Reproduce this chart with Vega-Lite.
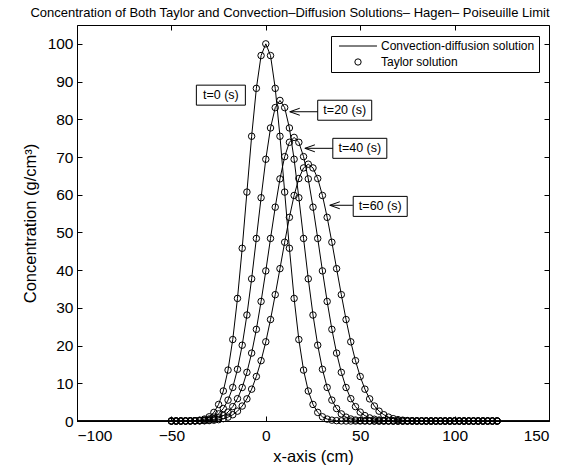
{
  "$schema": "https://vega.github.io/schema/vega-lite/v6.json",
  "width": 472,
  "height": 396,
  "autosize": "none",
  "padding": {"left": 77, "top": 25, "right": 31, "bottom": 54},
  "background": "white",
  "title": {"text": "Concentration of Both Taylor and Convection–Diffusion Solutions– Hagen– Poiseuille Limit", "fontSize": 13, "fontWeight": "normal", "color": "black", "dx": -23, "offset": 5},
  "config": {
    "font": "Liberation Sans",
    "view": {"stroke": "black", "strokeWidth": 1},
    "axis": {"grid": false, "domain": false, "tickColor": "black", "labelColor": "black", "titleColor": "black", "labelFontSize": 15.5, "titleFontSize": 16.5, "titleFontWeight": "normal", "tickSize": -5, "labelPadding": 9}
  },
  "datasets": {
    "conc": [
      {"x": -100, "t0": 0, "t20": 0, "t40": 0, "t60": 0},
      {"x": -50, "t0": 0, "t20": 0, "t40": 0, "t60": 0},
      {"x": -47.5, "t0": 0, "t20": 0, "t40": 0, "t60": 0},
      {"x": -45, "t0": 0, "t20": 0, "t40": 0, "t60": 0},
      {"x": -42.5, "t0": 0.01, "t20": 0.01, "t40": 0, "t60": 0},
      {"x": -40, "t0": 0.03, "t20": 0.02, "t40": 0.01, "t60": 0.01},
      {"x": -37.5, "t0": 0.09, "t20": 0.06, "t40": 0.03, "t60": 0.02},
      {"x": -35, "t0": 0.22, "t20": 0.13, "t40": 0.06, "t60": 0.03},
      {"x": -32.5, "t0": 0.51, "t20": 0.26, "t40": 0.13, "t60": 0.06},
      {"x": -30, "t0": 1.11, "t20": 0.53, "t40": 0.25, "t60": 0.11},
      {"x": -27.5, "t0": 2.28, "t20": 1.02, "t40": 0.46, "t60": 0.21},
      {"x": -25, "t0": 4.39, "t20": 1.88, "t40": 0.82, "t60": 0.36},
      {"x": -22.5, "t0": 7.96, "t20": 3.3, "t40": 1.42, "t60": 0.62},
      {"x": -20, "t0": 13.5, "t20": 5.54, "t40": 2.36, "t60": 1.03},
      {"x": -17.5, "t0": 21.6, "t20": 8.9, "t40": 3.81, "t60": 1.66},
      {"x": -15, "t0": 32.5, "t20": 13.7, "t40": 5.92, "t60": 2.61},
      {"x": -12.5, "t0": 45.8, "t20": 20.1, "t40": 8.88, "t60": 3.97},
      {"x": -10, "t0": 60.7, "t20": 28.1, "t40": 12.9, "t60": 5.87},
      {"x": -7.5, "t0": 75.5, "t20": 37.7, "t40": 18.0, "t60": 8.44},
      {"x": -5, "t0": 88.2, "t20": 48.4, "t40": 24.3, "t60": 11.8},
      {"x": -2.5, "t0": 96.9, "t20": 59.2, "t40": 31.7, "t60": 16.0},
      {"x": 0, "t0": 100, "t20": 69.4, "t40": 39.8, "t60": 21.0},
      {"x": 2.5, "t0": 96.9, "t20": 77.7, "t40": 48.4, "t60": 26.9},
      {"x": 5, "t0": 88.2, "t20": 83.1, "t40": 56.7, "t60": 33.5},
      {"x": 7.5, "t0": 75.5, "t20": 85, "t40": 64.2, "t60": 40.4},
      {"x": 10, "t0": 60.7, "t20": 83.1, "t40": 70.1, "t60": 47.4},
      {"x": 12.5, "t0": 45.8, "t20": 77.7, "t40": 73.9, "t60": 54.0},
      {"x": 15, "t0": 32.5, "t20": 69.4, "t40": 75.2, "t60": 59.8},
      {"x": 17.5, "t0": 21.6, "t20": 59.2, "t40": 73.9, "t60": 64.3},
      {"x": 20, "t0": 13.5, "t20": 48.4, "t40": 70.1, "t60": 67.1},
      {"x": 22.5, "t0": 7.96, "t20": 37.7, "t40": 64.2, "t60": 68.1},
      {"x": 25, "t0": 4.39, "t20": 28.1, "t40": 56.7, "t60": 67.1},
      {"x": 27.5, "t0": 2.28, "t20": 20.1, "t40": 48.4, "t60": 64.3},
      {"x": 30, "t0": 1.11, "t20": 13.7, "t40": 39.8, "t60": 59.8},
      {"x": 32.5, "t0": 0.51, "t20": 8.9, "t40": 31.7, "t60": 54.0},
      {"x": 35, "t0": 0.22, "t20": 5.54, "t40": 24.3, "t60": 47.4},
      {"x": 37.5, "t0": 0.09, "t20": 3.3, "t40": 18.0, "t60": 40.4},
      {"x": 40, "t0": 0.03, "t20": 1.88, "t40": 12.9, "t60": 33.5},
      {"x": 42.5, "t0": 0.01, "t20": 1.02, "t40": 8.88, "t60": 26.9},
      {"x": 45, "t0": 0, "t20": 0.53, "t40": 5.92, "t60": 21.0},
      {"x": 47.5, "t0": 0, "t20": 0.26, "t40": 3.81, "t60": 16.0},
      {"x": 50, "t0": 0, "t20": 0.13, "t40": 2.36, "t60": 11.8},
      {"x": 52.5, "t0": 0, "t20": 0.06, "t40": 1.42, "t60": 8.44},
      {"x": 55, "t0": 0, "t20": 0.02, "t40": 0.82, "t60": 5.87},
      {"x": 57.5, "t0": 0, "t20": 0.01, "t40": 0.46, "t60": 3.97},
      {"x": 60, "t0": 0, "t20": 0, "t40": 0.25, "t60": 2.61},
      {"x": 62.5, "t0": 0, "t20": 0, "t40": 0.13, "t60": 1.66},
      {"x": 65, "t0": 0, "t20": 0, "t40": 0.06, "t60": 1.03},
      {"x": 67.5, "t0": 0, "t20": 0, "t40": 0.03, "t60": 0.62},
      {"x": 70, "t0": 0, "t20": 0, "t40": 0.01, "t60": 0.36},
      {"x": 72.5, "t0": 0, "t20": 0, "t40": 0, "t60": 0.21},
      {"x": 75, "t0": 0, "t20": 0, "t40": 0, "t60": 0.11},
      {"x": 77.5, "t0": 0, "t20": 0, "t40": 0, "t60": 0.06},
      {"x": 80, "t0": 0, "t20": 0, "t40": 0, "t60": 0.03},
      {"x": 82.5, "t0": 0, "t20": 0, "t40": 0, "t60": 0.02},
      {"x": 85, "t0": 0, "t20": 0, "t40": 0, "t60": 0.01},
      {"x": 87.5, "t0": 0, "t20": 0, "t40": 0, "t60": 0},
      {"x": 90, "t0": 0, "t20": 0, "t40": 0, "t60": 0},
      {"x": 92.5, "t0": 0, "t20": 0, "t40": 0, "t60": 0},
      {"x": 95, "t0": 0, "t20": 0, "t40": 0, "t60": 0},
      {"x": 97.5, "t0": 0, "t20": 0, "t40": 0, "t60": 0},
      {"x": 100, "t0": 0, "t20": 0, "t40": 0, "t60": 0},
      {"x": 102.5, "t0": 0, "t20": 0, "t40": 0, "t60": 0},
      {"x": 105, "t0": 0, "t20": 0, "t40": 0, "t60": 0},
      {"x": 107.5, "t0": 0, "t20": 0, "t40": 0, "t60": 0},
      {"x": 110, "t0": 0, "t20": 0, "t40": 0, "t60": 0},
      {"x": 112.5, "t0": 0, "t20": 0, "t40": 0, "t60": 0},
      {"x": 115, "t0": 0, "t20": 0, "t40": 0, "t60": 0},
      {"x": 117.5, "t0": 0, "t20": 0, "t40": 0, "t60": 0},
      {"x": 120, "t0": 0, "t20": 0, "t40": 0, "t60": 0},
      {"x": 122.5, "t0": 0, "t20": 0, "t40": 0, "t60": 0},
      {"x": 150, "t0": 0, "t20": 0, "t40": 0, "t60": 0}
    ],
    "labels": [
      {"label": "t=0 (s)", "x": -23.8, "y": 86.4},
      {"label": "t=20 (s)", "x": 41.8, "y": 82.4},
      {"label": "t=40 (s)", "x": 49.8, "y": 72.3},
      {"label": "t=60 (s)", "x": 60.6, "y": 56.9}
    ],
    "arrows": [
      {"x": 27.5, "x2": 12.7, "y": 82.0},
      {"x": 35.5, "x2": 20.7, "y": 72.3},
      {"x": 46.1, "x2": 33.9, "y": 57.2}
    ]
  },
  "resolve": {"axis": {"x": "independent", "y": "independent"}, "scale": {"shape": "independent"}, "legend": {"shape": "independent"}},
  "layer": [
    {
      "data": {"name": "conc"},
      "transform": [{"fold": ["t0", "t20", "t40", "t60"], "as": ["series", "c"]}],
      "mark": {"type": "line", "color": "black", "strokeWidth": 1},
      "encoding": {
        "x": {"field": "x", "type": "quantitative", "scale": {"domain": [-100, 150], "nice": false, "zero": false}, "axis": {"orient": "bottom", "values": [-100, -50, 0, 50, 100, 150], "title": "x-axis (cm)", "labelPadding": 12, "titlePadding": 5}},
        "y": {"field": "c", "type": "quantitative", "scale": {"domain": [0, 105], "nice": false}, "axis": {"orient": "left", "values": [0, 10, 20, 30, 40, 50, 60, 70, 80, 90, 100], "title": "Concentration (g/cm³)", "labelPadding": 9, "titlePadding": 9}},
        "detail": {"field": "series"}
      }
    },
    {
      "data": {"name": "conc"},
      "transform": [{"filter": {"field": "x", "range": [-50, 122.5]}}, {"fold": ["t0", "t20", "t40", "t60"], "as": ["series", "c"]}],
      "mark": {"type": "point", "filled": false, "color": "black", "strokeWidth": 1, "size": 42, "opacity": 1},
      "encoding": {
        "x": {"field": "x", "type": "quantitative", "axis": {"orient": "top", "values": [-100, -50, 0, 50, 100, 150], "labels": false, "title": null}},
        "y": {"field": "c", "type": "quantitative", "axis": {"orient": "right", "values": [0, 10, 20, 30, 40, 50, 60, 70, 80, 90, 100], "labels": false, "title": null}},
        "shape": {"datum": "Taylor solution", "type": "nominal", "scale": {"domain": ["Convection-diffusion solution", "Taylor solution"], "range": ["M-6,0H6", "circle"]},
          "legend": {"title": null, "orient": "none", "legendX": 254, "legendY": 11, "strokeColor": "black", "fillColor": "white", "padding": 4, "symbolSize": 40, "symbolStrokeColor": "black", "symbolFillColor": "transparent", "symbolStrokeWidth": 1, "symbolOffset": 17, "labelOffset": 17, "labelFontSize": 12, "labelColor": "black", "rowPadding": 4, "cornerRadius": 0}}
      }
    },
    {
      "data": {"name": "labels"},
      "mark": {"type": "point", "filled": true, "fill": "white", "stroke": "black", "strokeWidth": 1, "size": 400, "opacity": 1},
      "encoding": {
        "x": {"field": "x", "type": "quantitative", "axis": null},
        "y": {"field": "y", "type": "quantitative", "axis": null},
        "shape": {"field": "label", "type": "nominal", "scale": {"domain": ["t=0 (s)", "t=20 (s)", "t=40 (s)", "t=60 (s)"], "range": ["M-2.45,-1H2.45V1H-2.45Z", "M-2.7,-1H2.7V1H-2.7Z", "M-2.7,-1H2.7V1H-2.7Z", "M-2.7,-1H2.7V1H-2.7Z"]}, "legend": null}
      }
    },
    {
      "data": {"name": "labels"},
      "mark": {"type": "text", "fontSize": 12.5, "color": "black", "align": "center", "baseline": "middle"},
      "encoding": {
        "x": {"field": "x", "type": "quantitative", "axis": null},
        "y": {"field": "y", "type": "quantitative", "axis": null},
        "text": {"field": "label"}
      }
    },
    {
      "data": {"name": "arrows"},
      "mark": {"type": "rule", "color": "black", "strokeWidth": 1},
      "encoding": {
        "x": {"field": "x", "type": "quantitative", "axis": null},
        "x2": {"field": "x2"},
        "y": {"field": "y", "type": "quantitative", "axis": null}
      }
    },
    {
      "data": {"name": "arrows"},
      "mark": {"type": "point", "shape": "M2,-0.7L0,0L2,0.7", "filled": false, "color": "black", "strokeWidth": 1, "size": 100, "opacity": 1},
      "encoding": {
        "x": {"field": "x2", "type": "quantitative", "axis": null},
        "y": {"field": "y", "type": "quantitative", "axis": null}
      }
    }
  ]
}
